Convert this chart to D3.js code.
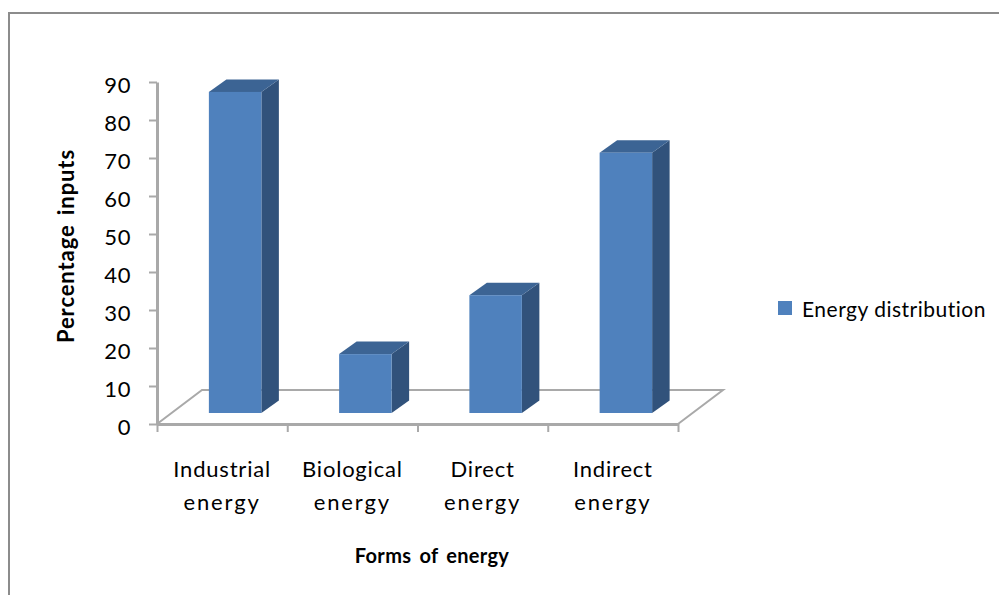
<!DOCTYPE html>
<html>
<head>
<meta charset="utf-8">
<script src="https://cdn.jsdelivr.net/npm/d3@7"></script>
<style>
  html, body { margin: 0; padding: 0; background: #fff; }
  text { font-family: Lato, "Open Sans", sans-serif; fill: #000; }
</style>
</head>
<body>
<div id="chart"></div>
<script>
const categories = [["Industrial", "energy"], ["Biological", "energy"], ["Direct", "energy"], ["Indirect", "energy"]];
const values = [84.5, 15.5, 31, 68.5];
const yTicks = [0, 10, 20, 30, 40, 50, 60, 70, 80, 90];
const seriesName = "Energy distribution";
const xTitle = "Forms of energy";
const yTitle = "Percentage inputs";

function drawChart() {
  const width = 999, height = 595;
  const svg = d3.select("#chart").append("svg")
    .attr("width", width)
    .attr("height", height)
    .style("display", "block");

  // outer frame
  svg.append("path")
    .attr("d", "M9,595V13H999")
    .attr("fill", "none")
    .attr("stroke", "#8c8c8c")
    .attr("stroke-width", 2);

  const plot = { left: 157, right: 678, bottom: 424, top: 82 };
  const depthX = 45, depthY = 34;
  const axisColor = "#a9a9a9";

  const y = d3.scaleLinear().domain([0, 90]).range([plot.bottom, plot.top]);
  const x = d3.scaleBand().domain(d3.range(values.length)).range([plot.left, plot.right]);
  const xEdges = d3.scaleLinear().domain([0, values.length]).range([plot.left, plot.right]);

  // floor of the 3d box
  svg.append("path")
    .attr("d", `M${plot.left},${plot.bottom}L${plot.left + depthX},${plot.bottom - depthY}H${plot.right + depthX}L${plot.right},${plot.bottom}`)
    .attr("fill", "none")
    .attr("stroke", axisColor)
    .attr("stroke-width", 2);

  const gy = svg.append("g")
    .attr("transform", `translate(${plot.left},0)`)
    .call(d3.axisLeft(y).tickValues(yTicks).tickSizeInner(8).tickSizeOuter(0).tickPadding(18));
  gy.selectAll("text").style("font-size", "22px").attr("dy", "0.47em").style("letter-spacing", "0.6px");
  gy.selectAll("line").attr("stroke", axisColor).attr("stroke-width", 2);
  gy.select("path").attr("stroke", axisColor).attr("stroke-width", 3);

  const gx = svg.append("g")
    .attr("transform", `translate(0,${plot.bottom})`)
    .call(d3.axisBottom(xEdges).ticks(values.length).tickFormat("").tickSizeInner(8).tickSizeOuter(0));
  gx.selectAll("line").attr("stroke", axisColor).attr("stroke-width", 2);
  gx.select("path").attr("stroke", axisColor).attr("stroke-width", 3);

  // bars, offset into the box depth
  const barW = 52.5, dx = 17.5, dy = 12.5, lift = 11;
  const bars = svg.append("g").selectAll("g")
    .data(values)
    .join("g")
    .attr("transform", (d, i) => `translate(${x(i) + x.step() / 2 + 13 - barW / 2},${-lift})`);

  bars.append("path") // side
    .attr("fill", "#31527b")
    .attr("d", d => `M${barW},${y(0)}V${y(d)}l${dx},${-dy}V${y(0) - dy}Z`);
  bars.append("path") // top
    .attr("fill", "#3c6494")
    .attr("d", d => `M0,${y(d)}l${dx},${-dy}h${barW}l${-dx},${dy}Z`);
  bars.append("rect") // front
    .attr("fill", "#4f81bd")
    .attr("y", d => y(d))
    .attr("width", barW)
    .attr("height", d => y(0) - y(d));

  // category labels
  const labels = svg.append("g").selectAll("text")
    .data(categories)
    .join("text")
    .attr("text-anchor", "middle")
    .style("font-size", "22px")
    .attr("transform", (d, i) => `translate(${x(i) + x.step() / 2},477)`);
  labels.selectAll("tspan")
    .data(d => d)
    .join("tspan")
    .attr("x", 0)
    .attr("dy", (d, i) => i ? 33 : 0)
    .style("letter-spacing", (d, i) => i ? "1.9px" : "0.8px")
    .text(d => d);

  // axis titles
  svg.append("text")
    .attr("x", 432).attr("y", 563)
    .attr("text-anchor", "middle")
    .style("font-size", "20px").style("font-weight", "bold")
    .style("letter-spacing", "0.3px").style("word-spacing", "3px")
    .text(xTitle);
  svg.append("text")
    .attr("transform", "translate(74,246) rotate(-90)")
    .attr("text-anchor", "middle")
    .style("font-size", "22px").style("font-weight", "bold")
    .style("letter-spacing", "0.9px").style("word-spacing", "3px")
    .text(yTitle);

  // legend
  svg.append("rect")
    .attr("x", 778).attr("y", 301)
    .attr("width", 14).attr("height", 14)
    .attr("fill", "#4f81bd");
  svg.append("text")
    .attr("x", 802).attr("y", 317)
    .style("font-size", "21px")
    .style("letter-spacing", "0.5px")
    .text(seriesName);
}

drawChart();
</script>
</body>
</html>
